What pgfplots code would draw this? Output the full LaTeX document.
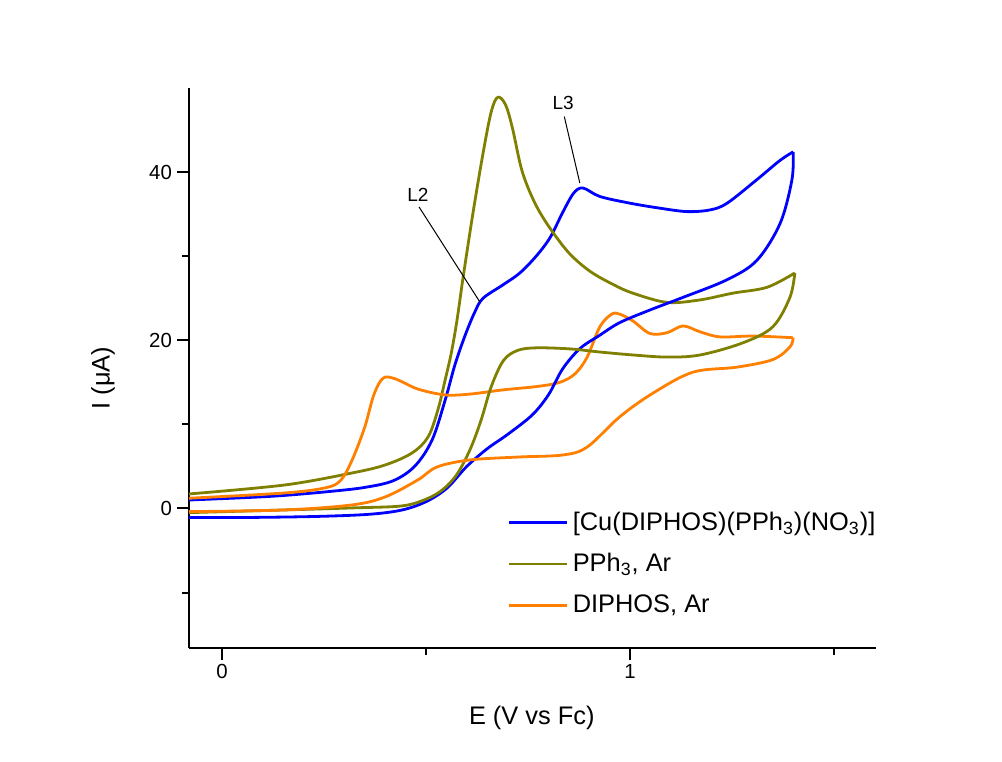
\documentclass[border=0pt]{standalone}
\usepackage{pgfplots}
\pgfplotsset{compat=1.18}
\usepackage{fontspec}
\setmainfont{Liberation Sans}
\definecolor{cblue}{RGB}{0,0,255}
\definecolor{colive}{RGB}{128,128,0}
\definecolor{corange}{RGB}{255,128,0}
\begin{document}
\begin{tikzpicture}
\useasboundingbox (-94.5pt,-56.5pt) rectangle (406.5pt,324pt);
\begin{axis}[
  at={(0pt,0pt)}, anchor=south west,
  scale only axis, width=343.5pt, height=280pt,
  xmin=-0.081, xmax=1.603, ymin=-16.6, ymax=50,
  axis x line*=bottom, axis y line*=left,
  axis line style={line width=1pt},
  xtick={0,1}, minor xtick={0.5,1.5},
  ytick={0,20,40}, minor ytick={-10,10,30},
  tick align=outside,
  major tick length=6pt, minor tick length=3.5pt,
  tick style={black, line width=1pt},
  tick label style={font=\fontsize{10.2}{12}\selectfont},
  xticklabel style={yshift=1.5pt},
  yticklabel style={xshift=1pt},
  /pgf/number format/assume math mode=true,
  xlabel={E (V vs Fc)}, ylabel={I (μA)},
  label style={font=\fontsize{12.7}{15}\selectfont},
  xlabel style={at={(axis description cs:0.499,-0.125)}, anchor=center},
  ylabel style={at={(axis description cs:-0.1252,0.482)}, anchor=center},
  legend style={at={(axis description cs:0.455,0.258)}, anchor=north west, draw=none, fill=none,
    font=\fontsize{12.7}{15}\selectfont, row sep=6pt},
  legend cell align=left,
  legend image code/.code={\draw[#1, line width=1.4pt] (0pt,0pt) -- (29pt,0pt);},
  every axis plot/.append style={line width=1.4pt, smooth, tension=0.55},
]
% Blue: [Cu(DIPHOS)(PPh3)(NO3)]
\addplot[cblue] coordinates {
(-0.081,1.0) (0.069,1.31) (0.154,1.55) (0.265,2.02) (0.350,2.5) (0.420,3.3) (0.473,5.05)
(0.515,8.15) (0.547,12.9) (0.571,17.1) (0.596,20.6) (0.620,23.4) (0.640,25.0)
(0.689,26.6) (0.730,28.0) (0.770,30.0) (0.804,32.2) (0.835,35.2) (0.862,37.5) (0.885,38.1)
(0.926,37.1) (1.000,36.3) (1.074,35.7) (1.140,35.3) (1.196,35.5) (1.238,36.3)
(1.311,39.1) (1.368,41.4) (1.400,42.4)};
\addlegendentry{[Cu(DIPHOS)(PPh\textsubscript{3})(NO\textsubscript{3})]}
% Olive: PPh3, Ar
\addplot[colive] coordinates {
(-0.081,1.72) (0.154,2.79) (0.319,4.22) (0.400,5.17) (0.466,6.6) (0.505,8.5)
(0.529,11.7) (0.547,15.3) (0.562,18.5) (0.576,22.4) (0.591,27.5) (0.615,35.1)
(0.640,42.3) (0.660,47.2) (0.676,48.9) (0.695,48.0) (0.712,45.2) (0.735,40.2)
(0.765,36.5) (0.800,33.6) (0.850,30.4) (0.902,28.2) (0.960,26.6) (1.007,25.6) (1.091,24.5)
(1.172,24.8) (1.252,25.6) (1.336,26.3) (1.404,28.0)};
\addlegendentry{PPh\textsubscript{3}, Ar}
% Orange: DIPHOS, Ar
\addplot[corange] coordinates {
(-0.081,1.21) (0.154,1.84) (0.252,2.44) (0.290,3.3) (0.319,5.77) (0.350,9.7)
(0.372,13.5) (0.395,15.5) (0.425,15.4) (0.480,14.2) (0.547,13.5) (0.608,13.6)
(0.689,14.1) (0.772,14.5) (0.828,15.0) (0.865,16.0) (0.895,18.0) (0.926,21.6)
(0.955,23.1) (0.975,23.1) (1.007,22.3) (1.049,20.8) (1.091,20.9) (1.130,21.7)
(1.172,21.0) (1.221,20.4) (1.301,20.5) (1.400,20.3)};
\addlegendentry{DIPHOS, Ar}
% return scans
\addplot[cblue, forget plot] coordinates {
(1.400,42.4) (1.397,39.1) (1.368,33.9) (1.311,29.5) (1.238,27.2) (1.130,25.1)
(1.049,23.6) (0.975,22.1) (0.926,20.6) (0.877,19.0) (0.835,16.6) (0.800,13.5)
(0.760,11.1) (0.700,8.8) (0.650,7.1) (0.600,5.0) (0.551,2.4) (0.500,0.8) (0.440,-0.2)
(0.360,-0.7) (0.235,-0.95) (0.074,-1.07) (-0.081,-1.09)};
\addplot[colive, forget plot] coordinates {
(1.404,28.0) (1.392,25.1) (1.350,21.6) (1.277,19.7) (1.172,18.25) (1.091,18.0)
(1.007,18.25) (0.926,18.6) (0.853,18.97) (0.772,19.1) (0.725,18.8) (0.690,17.6)
(0.660,14.5) (0.635,10.5) (0.608,7.0) (0.575,4.0) (0.540,2.2) (0.500,1.1) (0.441,0.3)
(0.319,0.06) (0.154,-0.18) (-0.081,-0.5)};
\addplot[corange, forget plot] coordinates {
(1.400,20.3) (1.392,19.2) (1.350,17.7) (1.262,16.8) (1.154,16.2) (1.056,13.7)
(0.975,10.9) (0.895,7.3) (0.836,6.36) (0.730,6.12) (0.608,5.77) (0.527,4.93)
(0.480,3.39) (0.400,1.37) (0.319,0.42) (0.154,-0.18) (-0.081,-0.38)};
% annotations
\draw[line width=0.5pt] (axis cs:0.483,35.85) -- (axis cs:0.632,24.55);
\node[font=\fontsize{9.5}{11}\selectfont] at (axis cs:0.480,37.3) {L2};
\draw[line width=0.5pt] (axis cs:0.839,46.6) -- (axis cs:0.877,38.7);
\node[font=\fontsize{9.5}{11}\selectfont] at (axis cs:0.836,48.2) {L3};
\end{axis}
\end{tikzpicture}
\end{document}
